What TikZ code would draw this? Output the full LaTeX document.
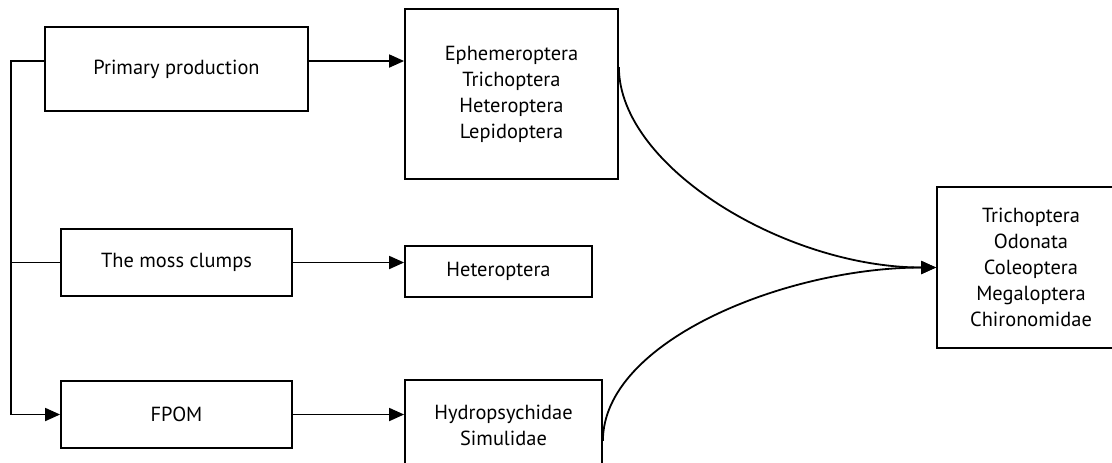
\documentclass[tikz,border=0pt]{standalone}
\usepackage{fontspec}
\setmainfont{PT Sans}
\usetikzlibrary{arrows.meta,calc}

\begin{document}
\begin{tikzpicture}[x=0.5pt,y=0.5pt,yscale=-1,xscale=1,
  box/.style={draw, line width=0.9pt, inner sep=0pt, align=center,
    font=\fontsize{10.2pt}{13pt}\selectfont},
  arr/.style={line width=0.9pt, -{Triangle[length=7.5pt,width=6.5pt]}}]
\useasboundingbox (0,0) rectangle (1112,462); %diagram 1112 x 462

%Shape: Rectangle [id:prim]
\node[box, minimum width=131.5pt, minimum height=42pt] (prim) at (176.5,69) {Primary production};
%Shape: Rectangle [id:moss]
\node[box, minimum width=115.5pt, minimum height=33.5pt] (moss) at (176.5,262.5) {The moss clumps};
%Shape: Rectangle [id:fpom]
\node[box, minimum width=115.5pt, minimum height=33.5pt] (fpom) at (176.5,414.5) {FPOM};

%Shape: Rectangle [id:eph]
\node[box, minimum width=106.5pt, minimum height=85pt] (eph) at (511.5,94) {Ephemeroptera\\Trichoptera\\Heteroptera\\Lepidoptera};
%Shape: Rectangle [id:het]
\node[box, minimum width=93.5pt, minimum height=25.5pt] (het) at (498.5,271.5) {Heteroptera};
%Shape: Rectangle [id:hydro]
\node[box, minimum width=98.5pt, minimum height=45pt] (hydro) at (503.5,425) {Hydropsychidae\\Simulidae};

%Shape: Rectangle [id:pred]
\node[box, minimum width=94pt, minimum height=80.5pt] (pred) at (1031,267.5) {Trichoptera\\Odonata\\Coleoptera\\Megaloptera\\Chironomidae};

\coordinate (pout) at ($(prim.east)+(0,-8)$);
\coordinate (ephout) at ($(eph.north east)+(0,59)$);
\coordinate (hydout) at ($(hydro.south east)+(0,-30)$);

%Straight Lines [id:bus]
\draw [arr] ($(prim.west)+(0,-8)$) -- ++(-33,0) coordinate (bus) |- (fpom.west);
\draw [line width=0.9pt] (moss.west) -- (moss.west -| bus);

%Straight Lines [id:right]
\draw [arr] (pout) -- (pout -| eph.west);
\draw [arr] (moss.east) -- (moss.east -| het.west);
\draw [arr] (fpom.east) -- (fpom.east -| hydro.west);

%Curve Lines [id:to pred]
\draw [arr] (ephout) .. controls +(0,100) and +(-150,0) .. (pred.west);
\draw [arr] (hydout) .. controls +(0,-100) and +(-150,0) .. (pred.west);

\end{tikzpicture}
\end{document}
